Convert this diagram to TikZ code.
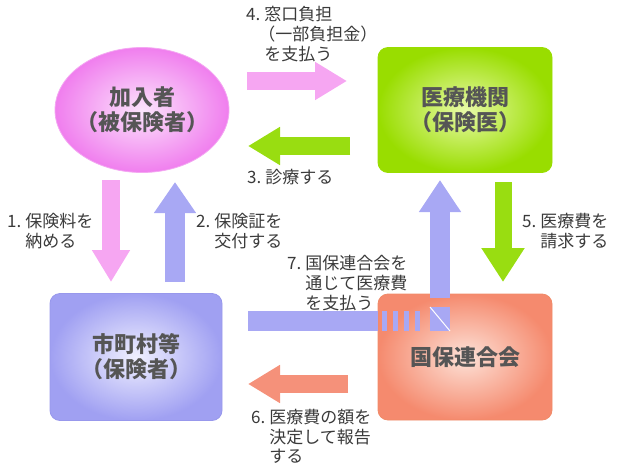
\documentclass[tikz,border=0pt]{standalone}
\usepackage{fontspec}
\setmainfont{Noto Sans CJK JP}
\usepackage{xcolor}
\usetikzlibrary{shapes.geometric, arrows.meta, positioning}

\definecolor{memout}{HTML}{F07EEE}
\definecolor{memin}{HTML}{FCE4FC}
\definecolor{memline}{HTML}{F4A8F2}
\definecolor{clinout}{HTML}{99DD00}
\definecolor{clinin}{HTML}{E8FAA8}
\definecolor{insout}{HTML}{A0A0F2}
\definecolor{insin}{HTML}{F0F0FF}
\definecolor{insline}{HTML}{9898EC}
\definecolor{uniout}{HTML}{F58A6E}
\definecolor{uniin}{HTML}{FDE2D8}
\definecolor{uniline}{HTML}{F08A68}
\definecolor{pinkarrow}{HTML}{F6A6F2}
\definecolor{greenarrow}{HTML}{99DD11}
\definecolor{bluearrow}{HTML}{A8A8F4}
\definecolor{salmonarrow}{HTML}{F5917A}
\definecolor{nodegray}{HTML}{555555}
\definecolor{notegray}{HTML}{3A3A3A}

\begin{document}
\begin{tikzpicture}[x=1pt, y=-1pt,
    party/.style={shading=radial, minimum width=174pt, minimum height=125pt, line width=0.8pt, inner sep=0pt, font=\fontsize{22}{25}\selectfont\bfseries, text=nodegray, align=center},
    roundbox/.style={party, rectangle, rounded corners=10pt},
    flow/.style={line width=18pt, draw=#1, -{Triangle[length=32pt, width=36pt]}},
    note/.style={anchor=north west, inner sep=0pt, font=\fontsize{17}{18.5}\selectfont, text=notegray}
]
    \useasboundingbox (0,0) rectangle (624,469);

    % Parties
    \node[party, ellipse, draw=memline, inner color=memin, outer color=memout] (member) at (142,110) {加入者\\\kern-.3em（被保険者）\kern-.3em};
    \node[roundbox, draw=clinout, inner color=clinin, outer color=clinout] (clinic) at (465,110) {医療機関\\\kern-.3em（保険医）\kern-.3em};
    \node[roundbox, minimum width=172pt, minimum height=127pt, draw=insline, inner color=insin, outer color=insout] (insurer) at (136,357) {市町村等\\\kern-.3em（保険者）\kern-.3em};
    \node[roundbox, minimum height=126pt, draw=uniline, inner color=uniin, outer color=uniout] (union) at (465,357) {国保連合会};

    % Member <-> clinic
    \coordinate (a4s) at (247,81);
    \coordinate (a4e) at (347,81);
    \coordinate (a3s) at (350,146);
    \coordinate (a3e) at (248,146);
    \draw[flow=pinkarrow] (a4s) -- (a4e);
    \draw[flow=greenarrow] (a3s) -- (a3e);

    % Member <-> insurer
    \coordinate (a1s) at (111,180);
    \coordinate (a1e) at (111,282);
    \coordinate (a2s) at (175,282);
    \coordinate (a2e) at (175,182);
    \draw[flow=pinkarrow] (a1s) -- (a1e);
    \draw[flow=bluearrow, line width=20pt, -{Triangle[length=31pt, width=40pt]}] (a2s) -- (a2e);

    % Clinic -> union, union -> insurer
    \coordinate (a5s) at (503,182);
    \coordinate (a5e) at (503,282);
    \coordinate (a6s) at (348,384);
    \coordinate (a6e) at (248,384);
    \draw[flow=greenarrow, line width=17pt, -{Triangle[length=34pt, width=41pt]}] (a5s) -- (a5e);
    \draw[flow=salmonarrow] (a6s) -- (a6e);

    % Insurer pays clinic through the union
    \coordinate (a7s) at (248,321);
    \coordinate (a7m) at (378,321);
    \coordinate (a7k) at (421,321);
    \coordinate (a7c) at (440,298);
    \coordinate (a7e) at (440,180);
    \draw[bluearrow, line width=20pt] (a7s) -- (a7m);
    \draw[bluearrow, line width=20pt, dash pattern=on 5pt off 6pt, dash phase=7pt] (a7m) -- (a7k);
    \fill[bluearrow] (430,307) rectangle (450,331);
    \draw[white, line width=1pt] (430,307) -- (450,331);
    \draw[flow=bluearrow, line width=20pt, -{Triangle[length=32pt, width=40pt]}] (a7c) -- (a7e);

    % Labels
    \node[note] (n4) at (246,6) {\begin{tabular}{@{}l@{\hspace{4pt}}l@{}}4. & 窓口負担\\ & \kern-.35em（一部負担金）\\ & を支払う\end{tabular}};
    \node[note] (n3) at (247,169) {3.\hspace{4pt}診療する};
    \node[note] (n1) at (7,213) {\begin{tabular}{@{}l@{\hspace{4pt}}l@{}}1. & 保険料を\\ & 納める\end{tabular}};
    \node[note] (n2) at (196,213) {\begin{tabular}{@{}l@{\hspace{4pt}}l@{}}2. & 保険証を\\ & 交付する\end{tabular}};
    \node[note] (n5) at (522,213) {\begin{tabular}{@{}l@{\hspace{4pt}}l@{}}5. & 医療費を\\ & 請求する\end{tabular}};
    \node[note] (n7) at (287,255) {\begin{tabular}{@{}l@{\hspace{4pt}}l@{}}7. & 国保連合会を\\ & 通じて医療費\\ & を支払う\end{tabular}};
    \node[note] (n6) at (251,409) {\begin{tabular}{@{}l@{\hspace{4pt}}l@{}}6. & 医療費の額を\\ & 決定して報告\\ & する\end{tabular}};
\end{tikzpicture}
\end{document}
